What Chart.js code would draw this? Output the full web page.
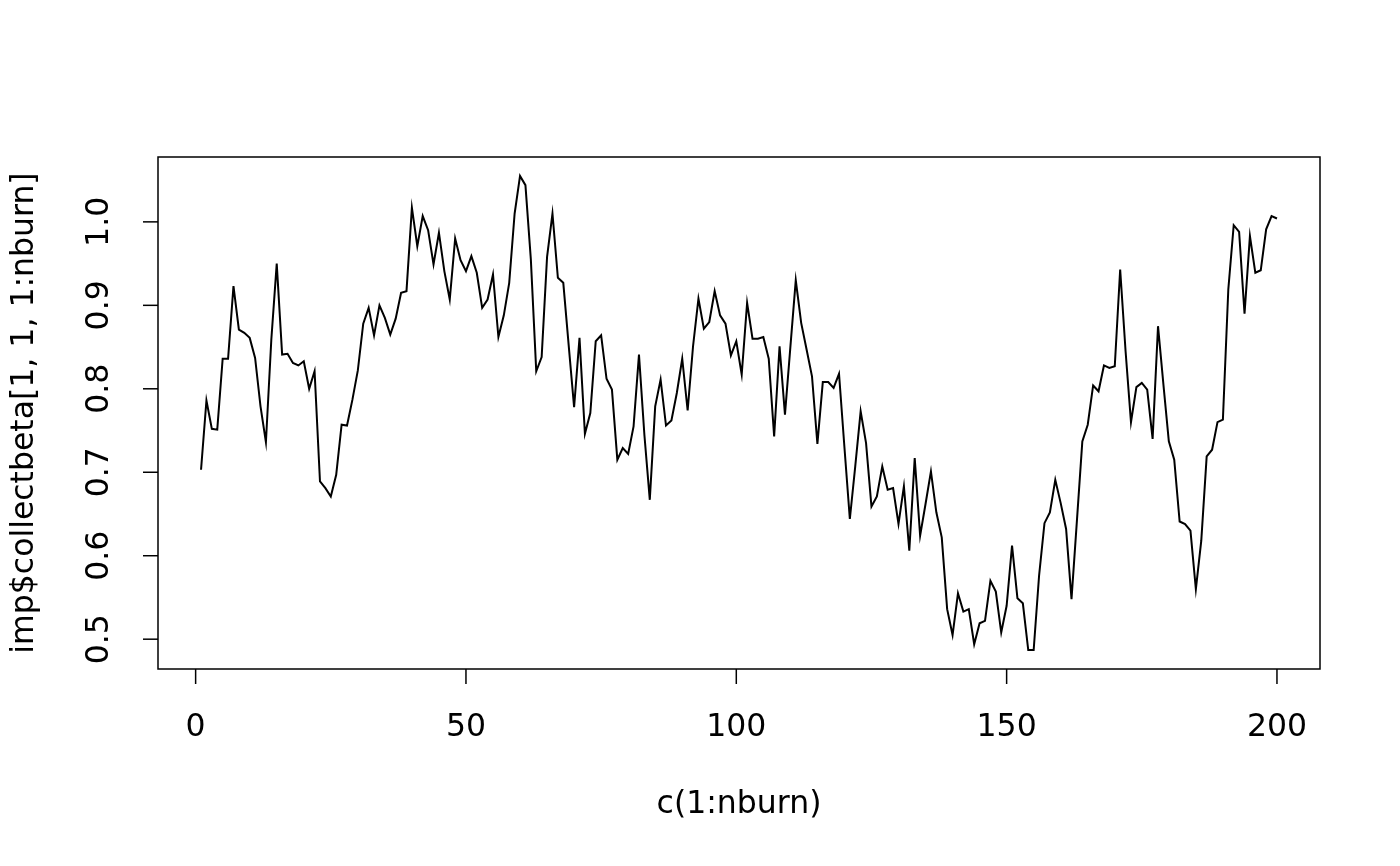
<!DOCTYPE html>
<html>
<head>
<meta charset="utf-8">
<script src="https://cdn.jsdelivr.net/npm/chart.js@4.4.1/dist/chart.umd.min.js"></script>
<style>
  html, body { margin: 0; padding: 0; background: #fff; }
  canvas { display: block; }
</style>
</head>
<body>
<canvas id="traceChart" width="1400" height="866"></canvas>
<script>
// c(1:nburn)
const nburnIndex = Array.from({ length: 200 }, (_, i) => i + 1);

// imp$collectbeta[1, 1, 1:nburn]
const collectbeta = [
    0.703, 0.786, 0.752, 0.751, 0.836, 0.836, 0.923, 0.871, 0.867, 0.861,
    0.837, 0.779, 0.736, 0.859, 0.950, 0.841, 0.842, 0.831, 0.828, 0.833,
    0.800, 0.821, 0.689, 0.681, 0.671, 0.697, 0.757, 0.756, 0.787, 0.822,
    0.878, 0.897, 0.864, 0.900, 0.885, 0.865, 0.884, 0.915, 0.917, 1.017,
    0.971, 1.007, 0.990, 0.949, 0.987, 0.941, 0.907, 0.980, 0.954, 0.941,
    0.959, 0.939, 0.897, 0.907, 0.937, 0.862, 0.888, 0.927, 1.010, 1.055,
    1.044, 0.955, 0.821, 0.838, 0.958, 1.010, 0.933, 0.927, 0.852, 0.778,
    0.861, 0.746, 0.771, 0.857, 0.864, 0.812, 0.799, 0.715, 0.729, 0.722,
    0.755, 0.841, 0.745, 0.667, 0.779, 0.811, 0.756, 0.762, 0.795, 0.836,
    0.774, 0.851, 0.908, 0.872, 0.880, 0.917, 0.888, 0.878, 0.840, 0.857,
    0.817, 0.903, 0.860, 0.860, 0.862, 0.836, 0.743, 0.851, 0.769, 0.850,
    0.930, 0.879, 0.847, 0.815, 0.734, 0.808, 0.808, 0.801, 0.818, 0.730,
    0.644, 0.707, 0.773, 0.735, 0.659, 0.671, 0.707, 0.679, 0.681, 0.638,
    0.683, 0.606, 0.717, 0.624, 0.662, 0.701, 0.652, 0.622, 0.536, 0.505,
    0.555, 0.533, 0.536, 0.494, 0.519, 0.522, 0.570, 0.557, 0.508, 0.540,
    0.612, 0.549, 0.543, 0.487, 0.487, 0.576, 0.639, 0.652, 0.691, 0.663,
    0.632, 0.548, 0.642, 0.737, 0.757, 0.804, 0.797, 0.828, 0.825, 0.827,
    0.943, 0.845, 0.760, 0.802, 0.807, 0.799, 0.740, 0.875, 0.805, 0.737,
    0.715, 0.641, 0.638, 0.630, 0.560, 0.618, 0.719, 0.727, 0.760, 0.763,
    0.919, 0.996, 0.988, 0.890, 0.983, 0.939, 0.942, 0.991, 1.007, 1.004
];

const xTicks = [0, 50, 100, 150, 200];
const yTicks = [0.5, 0.6, 0.7, 0.8, 0.9, 1.0];
const xTitle = 'c(1:nburn)';
const yTitle = 'imp$collectbeta[1, 1, 1:nburn]';

// R pads the data range by 4% on each side
const padRange = (lo, hi) => {
    const d = (hi - lo) * 0.04;
    return [lo - d, hi + d];
};
const [xMin, xMax] = padRange(Math.min(...nburnIndex), Math.max(...nburnIndex));
const [yMin, yMax] = padRange(Math.min(...collectbeta), Math.max(...collectbeta));

const FONT = '31.5px "DejaVu Sans"';

// base-graphics style box, ticks and labels
const rAxes = {
    id: 'rAxes',
    afterDraw(chart) {
        const { ctx, chartArea: a, scales } = chart;
        const xs = scales.x, ys = scales.y;
        ctx.save();
        ctx.strokeStyle = '#000';
        ctx.fillStyle = '#000';
        ctx.lineWidth = 1.5;
        ctx.strokeRect(a.left, a.top, a.right - a.left, a.bottom - a.top);

        ctx.font = FONT;
        ctx.textAlign = 'center';
        ctx.textBaseline = 'middle';

        // x axis
        xTicks.forEach(v => {
            const px = xs.getPixelForValue(v);
            ctx.beginPath();
            ctx.moveTo(px, a.bottom);
            ctx.lineTo(px, a.bottom + 15);
            ctx.stroke();
            ctx.fillText(String(v), px, a.bottom + 59);
        });
        ctx.fillText(xTitle, (a.left + a.right) / 2, a.bottom + 136);

        // y axis, labels parallel to the axis
        yTicks.forEach(v => {
            const py = ys.getPixelForValue(v);
            ctx.beginPath();
            ctx.moveTo(a.left, py);
            ctx.lineTo(a.left - 15, py);
            ctx.stroke();
            ctx.save();
            ctx.translate(a.left - 58, py);
            ctx.rotate(-Math.PI / 2);
            ctx.fillText(v.toFixed(1), 0, 0);
            ctx.restore();
        });
        ctx.save();
        ctx.translate(a.left - 133, (a.top + a.bottom) / 2);
        ctx.rotate(-Math.PI / 2);
        ctx.fillText(yTitle, 0, 0);
        ctx.restore();

        ctx.restore();
    }
};

new Chart(document.getElementById('traceChart').getContext('2d'), {
    type: 'line',
    data: {
        datasets: [{
            data: nburnIndex.map((n, i) => ({ x: n, y: collectbeta[i] })),
            borderColor: '#000',
            borderWidth: 2,
            pointRadius: 0,
            tension: 0,
            fill: false
        }]
    },
    options: {
        responsive: false,
        animation: false,
        devicePixelRatio: 1,
        layout: {
            padding: { left: 158, right: 80, top: 157, bottom: 197 }
        },
        plugins: {
            legend: { display: false },
            tooltip: { enabled: false }
        },
        scales: {
            x: { type: 'linear', min: xMin, max: xMax, display: false },
            y: { type: 'linear', min: yMin, max: yMax, display: false }
        }
    },
    plugins: [rAxes]
});
</script>
</body>
</html>
